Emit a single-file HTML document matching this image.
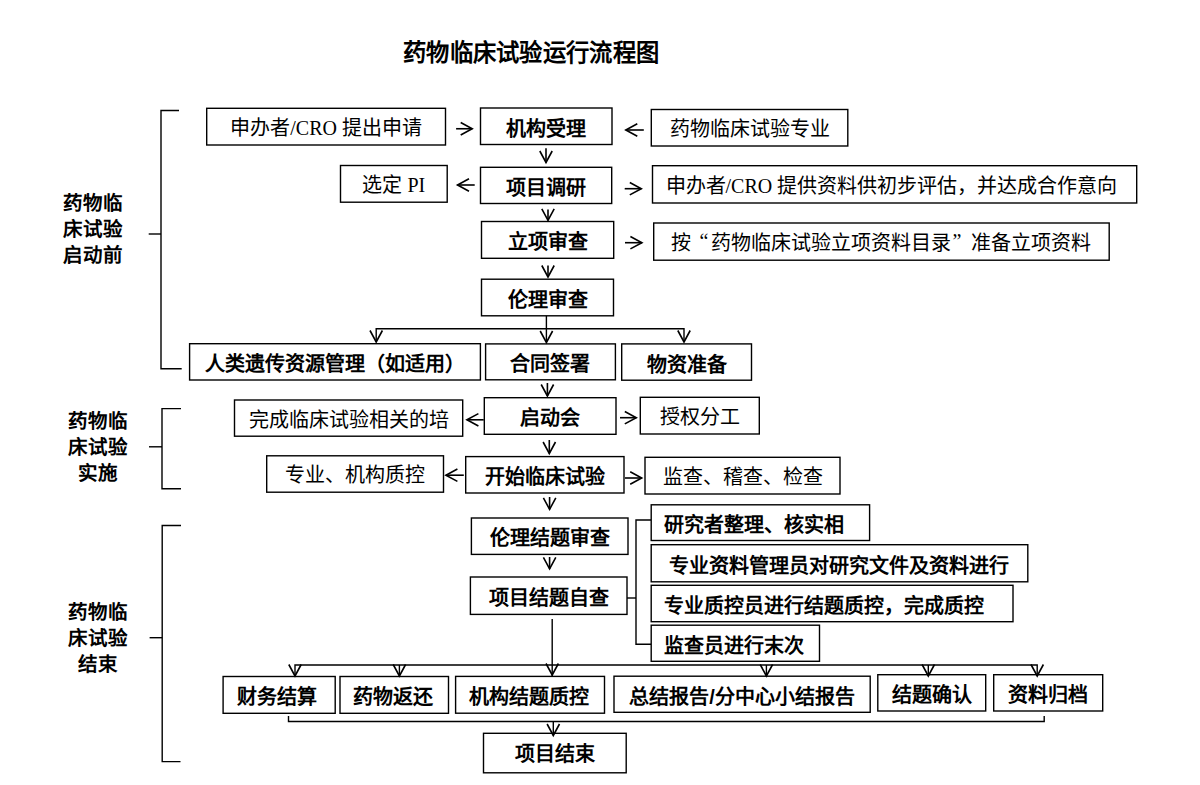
<!DOCTYPE html>
<html lang="zh-CN"><head><meta charset="utf-8"><title>药物临床试验运行流程图</title>
<style>
html,body{margin:0;padding:0;background:#fff;}
body{width:1200px;height:785px;position:relative;overflow:hidden;}
svg{position:absolute;left:0;top:0;}
.ar{stroke-width:1.6px;}
.t{position:absolute;display:flex;align-items:center;justify-content:center;white-space:nowrap;color:#000;}
.r{font-family:"Liberation Serif",serif;font-size:20px;}
.b{font-family:"Liberation Sans",sans-serif;font-size:20px;font-weight:bold;}
.side{position:absolute;font-family:"Liberation Sans",sans-serif;font-size:19.5px;font-weight:bold;line-height:26px;text-align:center;width:60px;color:#000;}
.qo{display:inline-block;width:20px;text-align:right;padding-right:3px;box-sizing:border-box;}
.qc{display:inline-block;width:20px;text-align:left;padding-left:1px;box-sizing:border-box;}
.title{position:absolute;left:403px;top:34px;font-family:"Liberation Sans",sans-serif;font-size:23.3px;letter-spacing:0.3px;font-weight:bold;white-space:nowrap;color:#000;}
</style></head><body>
<div class="title">药物临床试验运行流程图</div>
<svg width="1200" height="785" viewBox="0 0 1200 785" fill="none" stroke="#000" stroke-width="1.4">
<rect x="206.7" y="108.3" width="238.80" height="36.70"/>
<rect x="480.5" y="108.0" width="131.50" height="36.50"/>
<rect x="651.3" y="109.5" width="196.50" height="36.50"/>
<rect x="340.5" y="165.5" width="106.70" height="36.70"/>
<rect x="480.5" y="167.3" width="131.20" height="36.20"/>
<rect x="652.5" y="165.7" width="484.20" height="37.30"/>
<rect x="481.5" y="221.5" width="132.20" height="36.80"/>
<rect x="653.7" y="223.0" width="455.50" height="37.20"/>
<rect x="481.5" y="279.2" width="132.00" height="36.60"/>
<rect x="189.6" y="343.7" width="290.80" height="36.30"/>
<rect x="485.6" y="343.9" width="129.80" height="35.90"/>
<rect x="621.7" y="343.9" width="129.80" height="36.30"/>
<rect x="234.5" y="400.0" width="228.20" height="36.20"/>
<rect x="484.3" y="397.7" width="131.70" height="36.60"/>
<rect x="640.3" y="397.3" width="119.00" height="36.70"/>
<rect x="266.7" y="455.8" width="176.80" height="36.40"/>
<rect x="465.7" y="456.6" width="158.30" height="36.40"/>
<rect x="645.0" y="457.3" width="195.00" height="36.70"/>
<rect x="471.4" y="518.0" width="156.60" height="36.40"/>
<rect x="470.4" y="577.0" width="156.60" height="37.40"/>
<rect x="651.2" y="504.8" width="218.40" height="35.70"/>
<rect x="651.2" y="544.7" width="376.60" height="37.10"/>
<rect x="651.2" y="585.3" width="361.80" height="36.40"/>
<rect x="651.2" y="625.2" width="168.30" height="36.10"/>
<rect x="223.1" y="676.5" width="112.10" height="36.80"/>
<rect x="340.0" y="676.5" width="108.50" height="36.80"/>
<rect x="455.6" y="676.4" width="148.90" height="36.80"/>
<rect x="614.0" y="676.2" width="256.20" height="36.10"/>
<rect x="877.8" y="674.7" width="107.90" height="36.30"/>
<rect x="993.7" y="674.7" width="109.00" height="36.30"/>
<rect x="483.5" y="733.3" width="142.70" height="39.50"/>
<path d="M179,110.5 H161 V368.7 H181.7"/>
<path d="M148.7,234 H161"/>
<path d="M181,408.6 H162 V488.8 H181"/>
<path d="M149,446.8 H162"/>
<path d="M181,525.5 H162.2 V761.6 H180.5"/>
<path d="M149.6,637.7 H162.2"/>
<path d="M546.4,315.8 V342"/>
<path d="M376.2,342 V328.8 H684 V342"/>
<path d="M627,598 H636"/>
<path d="M651,520 H636 V644.3 H651"/>
<path d="M552.2,619 V676"/>
<path d="M295,676 V665 H1037.2 V676"/>
<path d="M399.4,665 V676"/>
<path d="M766.4,665 V676"/>
<path d="M928.3,665 V676"/>
<path d="M288.5,716 V721.5 H1044.2 V716"/>
<path d="M553.3,721.5 V735.5"/>
<path class="ar" d="M456.1,128.75 L472.2,128.75"/>
<path class="ar" d="M460.70,134.95 L472.20,128.75 L460.70,122.55"/>
<path class="ar" d="M643.8,130 L625.8,130"/>
<path class="ar" d="M637.30,123.80 L625.80,130.00 L637.30,136.20"/>
<path class="ar" d="M546,148.2 L546,162.5"/>
<path class="ar" d="M539.80,151.00 L546.00,162.50 L552.20,151.00"/>
<path class="ar" d="M474.7,185 L457.5,185"/>
<path class="ar" d="M469.00,178.80 L457.50,185.00 L469.00,191.20"/>
<path class="ar" d="M624.7,188.7 L641.3,188.7"/>
<path class="ar" d="M629.80,194.90 L641.30,188.70 L629.80,182.50"/>
<path class="ar" d="M548,209.4 L548,220.4"/>
<path class="ar" d="M541.80,208.90 L548.00,220.40 L554.20,208.90"/>
<path class="ar" d="M625,242.7 L641.9,242.7"/>
<path class="ar" d="M630.40,248.90 L641.90,242.70 L630.40,236.50"/>
<path class="ar" d="M548,265.6 L548,277"/>
<path class="ar" d="M541.80,265.50 L548.00,277.00 L554.20,265.50"/>
<path class="ar" d="M547.4,383 L547.4,396"/>
<path class="ar" d="M541.20,384.50 L547.40,396.00 L553.60,384.50"/>
<path class="ar" d="M483.7,419.8 L466.9,419.8"/>
<path class="ar" d="M478.40,413.60 L466.90,419.80 L478.40,426.00"/>
<path class="ar" d="M620,417.7 L636.3,417.7"/>
<path class="ar" d="M624.80,423.90 L636.30,417.70 L624.80,411.50"/>
<path class="ar" d="M549.3,440 L549.3,453.5"/>
<path class="ar" d="M543.10,442.00 L549.30,453.50 L555.50,442.00"/>
<path class="ar" d="M463.8,475.2 L445.9,475.2"/>
<path class="ar" d="M457.40,469.00 L445.90,475.20 L457.40,481.40"/>
<path class="ar" d="M625,478 L641.7,478"/>
<path class="ar" d="M630.20,484.20 L641.70,478.00 L630.20,471.80"/>
<path class="ar" d="M549.6,497 L549.6,509.3"/>
<path class="ar" d="M543.40,497.80 L549.60,509.30 L555.80,497.80"/>
<path class="ar" d="M549.6,557 L549.6,568.8"/>
<path class="ar" d="M543.40,557.30 L549.60,568.80 L555.80,557.30"/>
<path class="ar" d="M370.00,330.50 L376.20,342.00 L382.40,330.50"/>
<path class="ar" d="M540.20,331.00 L546.40,342.50 L552.60,331.00"/>
<path class="ar" d="M677.80,330.50 L684.00,342.00 L690.20,330.50"/>
<path class="ar" d="M288.80,664.50 L295.00,676.00 L301.20,664.50"/>
<path class="ar" d="M393.20,664.50 L399.40,676.00 L405.60,664.50"/>
<path class="ar" d="M546.00,663.50 L552.20,675.00 L558.40,663.50"/>
<path class="ar" d="M760.20,664.50 L766.40,676.00 L772.60,664.50"/>
<path class="ar" d="M922.10,664.50 L928.30,676.00 L934.50,664.50"/>
<path class="ar" d="M1031.00,664.50 L1037.20,676.00 L1043.40,664.50"/>
<path class="ar" d="M547.10,724.00 L553.30,735.50 L559.50,724.00"/>
</svg>
<div class="t r" style="left:206.7px;top:108.3px;width:238.8px;height:36.7px;">申办者/CRO 提出申请</div>
<div class="t b" style="left:480.5px;top:109.0px;width:131.5px;height:36.5px;">机构受理</div>
<div class="t r" style="left:651.3px;top:109.5px;width:196.5px;height:36.5px;">药物临床试验专业</div>
<div class="t r" style="left:340.5px;top:165.5px;width:106.7px;height:36.7px;">选定 PI</div>
<div class="t b" style="left:480.5px;top:168.3px;width:131.2px;height:36.2px;">项目调研</div>
<div class="t r" style="left:649.3px;top:165.7px;width:484.2px;height:37.3px;">申办者/CRO 提供资料供初步评估，并达成合作意向</div>
<div class="t b" style="left:481.5px;top:222.5px;width:132.2px;height:36.8px;">立项审查</div>
<div class="t r" style="left:653.7px;top:223.0px;width:455.5px;height:37.2px;">按<span class=qo>“</span>药物临床试验立项资料目录<span class=qc>”</span>准备立项资料</div>
<div class="t b" style="left:481.5px;top:280.2px;width:132.0px;height:36.6px;">伦理审查</div>
<div class="t b" style="left:189.6px;top:344.7px;width:290.8px;height:36.3px;">人类遗传资源管理（如适用）</div>
<div class="t b" style="left:485.6px;top:344.9px;width:129.8px;height:35.9px;">合同签署</div>
<div class="t b" style="left:621.7px;top:344.9px;width:129.8px;height:36.3px;">物资准备</div>
<div class="t r" style="left:234.5px;top:400.0px;width:228.2px;height:36.2px;">完成临床试验相关的培</div>
<div class="t b" style="left:484.3px;top:398.7px;width:131.7px;height:36.6px;">启动会</div>
<div class="t r" style="left:640.3px;top:397.3px;width:119.0px;height:36.7px;">授权分工</div>
<div class="t r" style="left:266.7px;top:455.8px;width:176.8px;height:36.4px;">专业、机构质控</div>
<div class="t b" style="left:465.7px;top:457.6px;width:158.3px;height:36.4px;">开始临床试验</div>
<div class="t r" style="left:645.0px;top:457.3px;width:195.0px;height:36.7px;">监查、稽查、检查</div>
<div class="t b" style="left:471.4px;top:518.2px;width:156.6px;height:36.4px;">伦理结题审查</div>
<div class="t b" style="left:470.4px;top:578.0px;width:156.6px;height:37.4px;">项目结题自查</div>
<div class="t b" style="left:651.2px;top:505.8px;width:218.4px;height:35.7px;justify-content:flex-start;padding-left:13px;box-sizing:border-box;">研究者整理、核实相</div>
<div class="t b" style="left:651.2px;top:545.7px;width:376.6px;height:37.1px;">专业资料管理员对研究文件及资料进行</div>
<div class="t b" style="left:651.2px;top:586.3px;width:361.8px;height:36.4px;justify-content:flex-start;padding-left:13px;box-sizing:border-box;">专业质控员进行结题质控，完成质控</div>
<div class="t b" style="left:651.2px;top:626.2px;width:168.3px;height:36.1px;justify-content:flex-start;padding-left:13px;box-sizing:border-box;">监查员进行末次</div>
<div class="t b" style="left:220.9px;top:677.5px;width:112.1px;height:36.8px;">财务结算</div>
<div class="t b" style="left:338.3px;top:677.5px;width:108.5px;height:36.8px;">药物返还</div>
<div class="t b" style="left:454.1px;top:677.4px;width:148.9px;height:36.8px;">机构结题质控</div>
<div class="t b" style="left:614.0px;top:677.2px;width:256.2px;height:36.1px;">总结报告/分中心小结报告</div>
<div class="t b" style="left:877.8px;top:675.7px;width:107.9px;height:36.3px;">结题确认</div>
<div class="t b" style="left:993.7px;top:675.7px;width:109.0px;height:36.3px;">资料归档</div>
<div class="t b" style="left:483.5px;top:732.8px;width:142.7px;height:39.5px;">项目结束</div>
<div class="side" style="left:63px;top:190.4px;">药物临<br>床试验<br>启动前</div>
<div class="side" style="left:68px;top:408px;">药物临<br>床试验<br>实施</div>
<div class="side" style="left:68px;top:599px;">药物临<br>床试验<br>结束</div>
</body></html>
